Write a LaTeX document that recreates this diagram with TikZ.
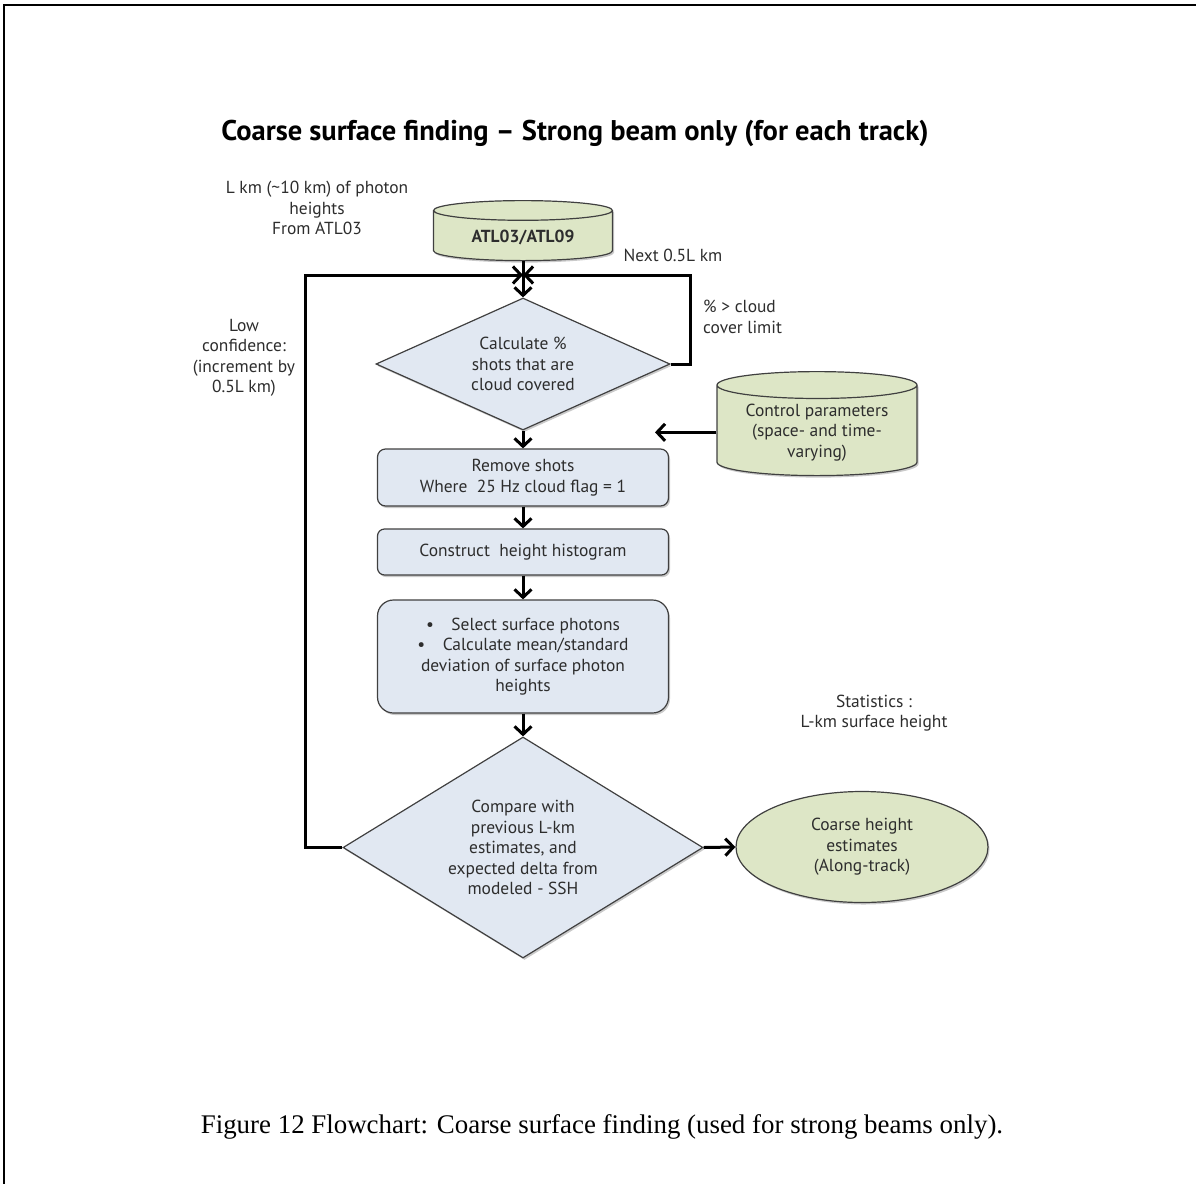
\documentclass[tikz,border=0pt]{standalone}
\usepackage{fontspec}
\setmainfont{PT Sans}
\newfontfamily\capfont{Liberation Serif}
\usetikzlibrary{arrows.meta,positioning,shapes.geometric,shadows}
\definecolor{fcblue}{RGB}{225,232,242}
\definecolor{fcgreen}{RGB}{221,230,198}
\definecolor{fctext}{RGB}{45,45,45}

\begin{document}
\begin{tikzpicture}[x=1bp,y=-1bp,>={Straight Barb[length=8bp,width=17bp]},
  font=\fontsize{17.5}{20.5}\selectfont,
  txt/.style={align=center,text=fctext,inner sep=0pt},
  shd/.style={drop shadow={shadow xshift=1.5bp,shadow yshift=-2bp,opacity=0.35,fill=black!60}},
  procbox/.style={draw=black!75,line width=1.2bp,fill=fcblue,rounded corners=8bp,minimum width=291bp,align=center,text=fctext,shd},
  decide/.style={diamond,draw=black!75,line width=1.2bp,fill=fcblue,align=center,text=fctext,inner sep=0pt,shd},
  store/.style={cylinder,shape border rotate=90,draw=black!75,line width=1.2bp,fill=fcgreen,aspect=0.18,align=center,text=fctext,anchor=top,shd},
  link/.style={->,line width=3bp,black}]
  \useasboundingbox (0,0) rectangle (1196,1184);
  % page frame (top and left edges only)
  \draw[line width=2.5bp] (4,1184) -- (4,5) -- (1196,5);
  % heading
  \node[font=\bfseries\fontsize{28.6}{32}\selectfont] (title) at (575,133) {Coarse surface finding – Strong beam only (for each track)};
  % inputs
  \node[txt] (src) at (317,208) {L km (\textasciitilde10 km) of photon\\heights\\From ATL03};
  \node[store,minimum width=179bp,minimum height=60bp] (atl) at (523,200) {\textbf{ATL03/ATL09}};
  \node[store,minimum width=200bp,minimum height=104bp] (ctl) at (817,371) {Control parameters\\(space- and time-\\varying)};
  % main chain
  \node[decide,aspect=2.23,minimum width=294bp,minimum height=132bp] (calc) at (523,364) {Calculate \%\\shots that are\\cloud covered};
  \node[procbox,minimum height=57bp] (rm) at (523,477.5) {Remove shots\\Where\ \ 25 Hz cloud flag = 1};
  \node[procbox,minimum height=46bp,rounded corners=7bp] (hist) at (523,552) {Construct\ \ height histogram};
  \node[procbox,minimum height=113bp,rounded corners=16bp] (sel) at (523,656.5) {\textbullet\quad Select surface photons\\\textbullet\quad Calculate mean/standard\\deviation of surface photon\\heights};
  \node[decide,aspect=1.63,minimum width=360bp,minimum height=221bp] (cmp) at (523,847.5) {Compare with\\previous L-km\\estimates, and\\expected delta from\\modeled - SSH};
  \node[ellipse,draw=black!75,line width=1.2bp,fill=fcgreen,align=center,text=fctext,shd,minimum width=252bp,minimum height=111bp] (est) at (862,847) {Coarse height\\estimates\\(Along-track)};
  % side labels
  \node[txt] (nxt) at (673,255) {Next 0.5L km};
  \node[txt,align=left,anchor=west] (cov) at (703,317) {\% > cloud\\cover limit};
  \node[txt] (lowc) at (244,358) {Low\\confidence:\\(increment by\\0.5L km)};
  \node[txt] (stat) at (874,713) {Statistics :\\L-km surface height};
  % connectors
  \coordinate (jn) at (523,275);
  \coordinate (ctlx) at (655,0);
  \coordinate (ctlend) at (ctl.west -| ctlx);
  \draw[link] (atl.bottom) -- (calc.north);
  \draw[link] (calc.east) -- ++(20,0) |- (jn);
  \draw[link] (cmp.west) -- ++(-37,0) |- (jn);
  \draw[link] (ctl.west) -- (ctlend);
  \draw[link] (calc.south) -- (rm.north);
  \draw[link] (rm.south) -- (hist.north);
  \draw[link] (hist.south) -- (sel.north);
  \draw[link] (sel.south) -- (cmp.north);
  \draw[link] (cmp.east) -- (est.west);
  % caption
  \node[font=\capfont\fontsize{27}{30}\selectfont] (cap) at (602,1127) {Figure 12 Flowchart: Coarse surface finding (used for strong beams only).};
\end{tikzpicture}
\end{document}
